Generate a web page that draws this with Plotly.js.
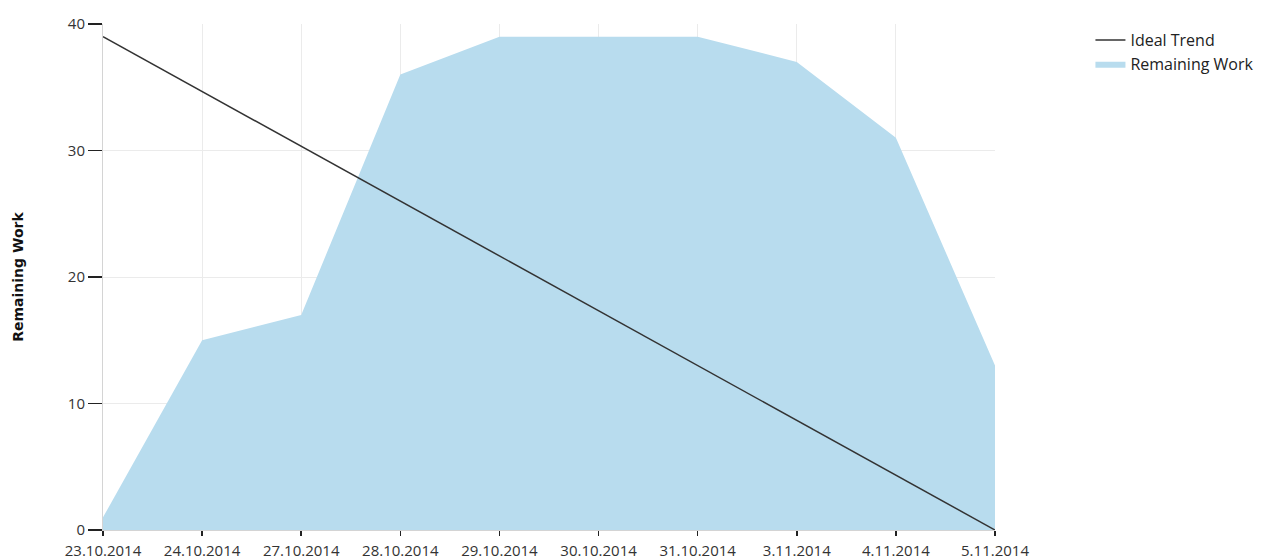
<!DOCTYPE html>
<html>
<head>
<meta charset="utf-8">
<script src="https://cdn.plot.ly/plotly-3.0.1.min.js"></script>
<style>html,body{margin:0;padding:0;background:#fff;}#chart{width:1273px;height:560px;}</style>
</head>
<body>
<div id="chart"></div>
<script>
const dates = ["23.10.2014","24.10.2014","27.10.2014","28.10.2014","29.10.2014","30.10.2014","31.10.2014","3.11.2014","4.11.2014","5.11.2014"];
const remainingWork = [1, 15, 17, 36, 39, 39, 39, 37, 31, 13];
const idealTrend = [39, 34.667, 30.333, 26, 21.667, 17.333, 13, 8.667, 4.333, 0];

const traces = [
  {
    x: dates, y: remainingWork, name: "Remaining Work", type: "scatter", mode: "lines",
    fill: "tozeroy", fillcolor: "#b8dcee", line: {width: 0, color: "#b8dcee"}
  },
  {
    x: dates, y: idealTrend, name: "Ideal Trend", type: "scatter", mode: "lines",
    line: {width: 1.5, color: "#333333"}
  }
];

const layout = {
  width: 1273, height: 560,
  margin: {l: 103, r: 278, t: 24, b: 30},
  paper_bgcolor: "#fff", plot_bgcolor: "#fff",
  font: {family: "Open Sans, Noto Sans, sans-serif", size: 15, color: "#333"},
  showlegend: true,
  legend: {x: 1.107, y: 1.002, xanchor: "left", yanchor: "top", traceorder: "reversed",
           font: {size: 16, color: "#222"}, bgcolor: "rgba(0,0,0,0)", tracegroupgap: 0, itemwidth: 30},
  xaxis: {
    type: "category", range: [0, 9], showgrid: true, gridcolor: "#ebebeb",
    showline: true, linecolor: "#d4d4d4", linewidth: 1,
    ticks: "outside", ticklen: 5, tickcolor: "#222", tickwidth: 1.5, ticklabelstandoff: 2,
    tickfont: {size: 15, color: "#333"}, zeroline: false, automargin: false
  },
  yaxis: {
    range: [0, 40], tickvals: [0, 10, 20, 30, 40], showgrid: true, gridcolor: "#ebebeb",
    showline: true, linecolor: "#d4d4d4", linewidth: 1,
    ticks: "outside", ticklen: 14, tickcolor: "#222", tickwidth: 1.5,
    tickfont: {size: 15, color: "#333"}, zeroline: false, automargin: false,
    title: {text: "Remaining Work", font: {family: "DejaVu Sans, sans-serif", size: 14, color: "#111", weight: "bold"}, standoff: 40}
  }
};

Plotly.newPlot("chart", traces, layout, {displayModeBar: false, staticPlot: true});
</script>
</body>
</html>
